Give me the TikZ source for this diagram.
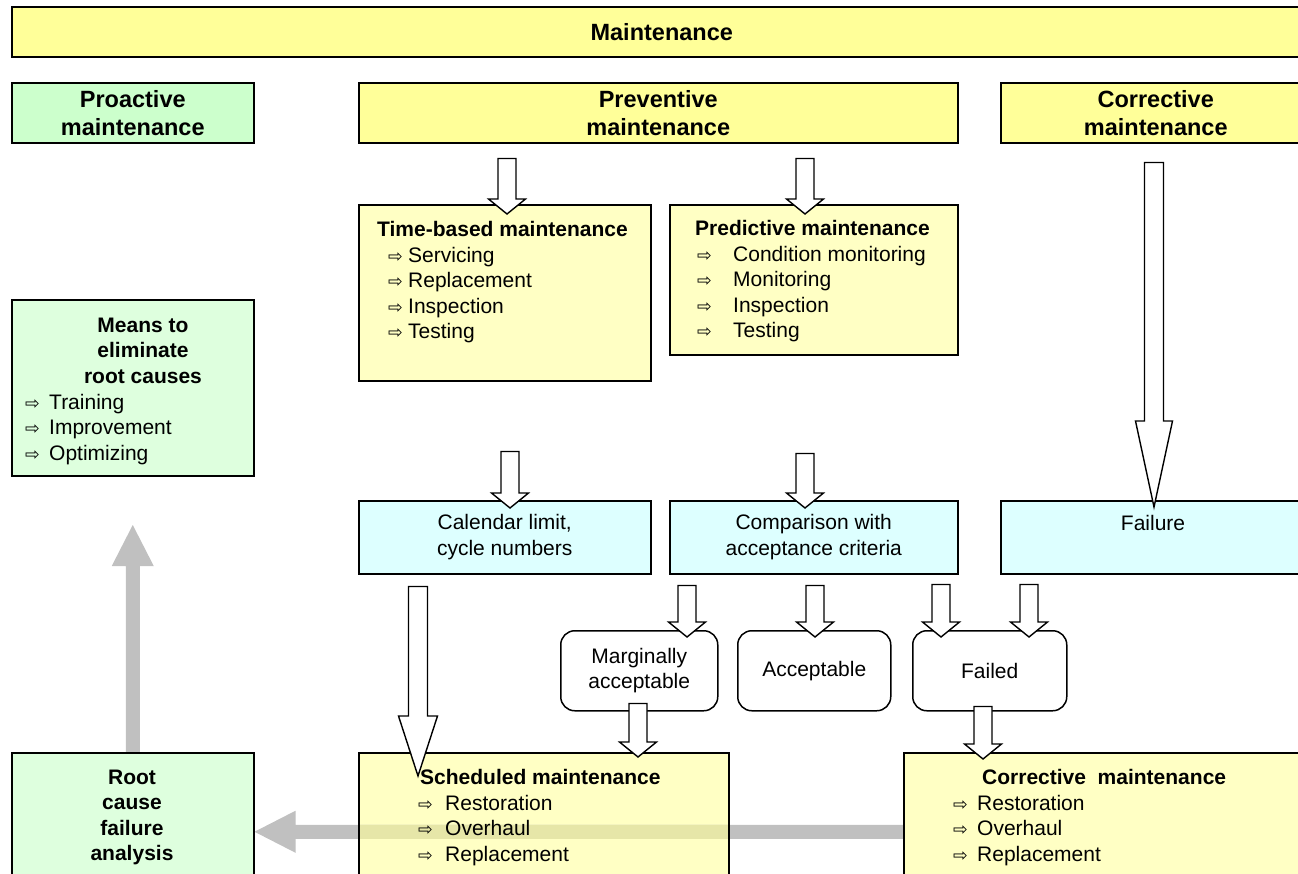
\documentclass[tikz,border=0pt]{standalone}
\usepackage{fontspec}
\setmainfont{Liberation Sans}
\newfontfamily\symfont{DejaVu Sans}
\usetikzlibrary{calc}
\pgfdeclarelayer{bg}
\pgfsetlayers{bg,main}

\definecolor{hdryel}{HTML}{FFFF99}
\definecolor{boxyel}{HTML}{FFFFC4}
\definecolor{hdrgrn}{HTML}{CCFFCC}
\definecolor{boxgrn}{HTML}{DEFFDE}
\definecolor{boxcyan}{HTML}{DDFFFF}
\definecolor{arrgray}{HTML}{C0C0C0}
\definecolor{arrblend}{RGB}{230,230,168}

% white-arrow bullet and an indented list item
\newcommand\arsym{{\symfont\fontsize{17.5}{17.5}\selectfont ⇨}}
\newcommand\itm[3]{\hspace*{#1pt}\makebox[#2pt][l]{\arsym}#3}

% outlined block arrow pointing down: from, tip, shaft half, head half, head length
\newcommand\blockdown[5]{%
  \draw[blk] let \p1=(#1), \p2=(#2) in
    (\x2-#3,\y1) -- (\x2-#3,\y2+#5) -- (\x2-#4,\y2+#5) -- (\x2,\y2)
    -- (\x2+#4,\y2+#5) -- (\x2+#3,\y2+#5) -- (\x2+#3,\y1) -- cycle;}
\newcommand\shortdown[2]{\blockdown{#1}{#2}{9pt}{18.5pt}{15pt}}

% filled grey arrows
\newcommand\grayup[3]{%
  \fill[#3] let \p1=(#1), \p2=(#2) in
    (\x1-7pt,\y1) -- (\x1-7pt,\y2-41pt) -- (\x1-21pt,\y2-41pt) -- (\x1,\y2)
    -- (\x1+21pt,\y2-41pt) -- (\x1+7pt,\y2-41pt) -- (\x1+7pt,\y1) -- cycle;}
\newcommand\grayleft[3]{%
  \fill[#3] let \p1=(#1), \p2=(#2) in
    (\x1,\y1+7pt) -- (\x2+41pt,\y1+7pt) -- (\x2+41pt,\y1+21pt) -- (\x2,\y1)
    -- (\x2+41pt,\y1-21pt) -- (\x2+41pt,\y1-7pt) -- (\x1,\y1-7pt) -- cycle;}

\begin{document}
\begin{tikzpicture}[x=1pt,y=-1pt,
  font=\fontsize{21}{25.5}\selectfont,
  box/.style={draw=black, line width=1.5pt, rectangle, inner sep=0pt,
              anchor=north west, align=center},
  rbox/.style={box, rounded corners=14pt, fill=white},
  txt/.style={inner sep=0pt, anchor=north west, align=left},
  ctxt/.style={inner sep=0pt, anchor=north, align=center, font=\fontsize{21}{25.5}\selectfont\bfseries},
  blk/.style={draw=black, line width=1.4pt, fill=white, line join=miter},
  hdr/.style={font=\fontsize{23.5}{28}\selectfont\bfseries}]

\useasboundingbox (0,0) rectangle (1298,873);
\begin{pgfonlayer}{bg}
  \fill[white] (0,0) rectangle (1298,873);
\end{pgfonlayer}
\clip (0,0) rectangle (1298,873);

% top level
\node[box, fill=hdryel, hdr, minimum width=1300pt, minimum height=50pt] (maint) at (11,6) {Maintenance};

% three strategies
\node[box, fill=hdrgrn, hdr, minimum width=242pt, minimum height=60pt] (proact) at (11,82) {Proactive\\maintenance};
\node[box, fill=hdryel, hdr, minimum width=599pt, minimum height=60pt] (prev) at (358,82) {Preventive\\maintenance};
\node[box, fill=hdryel, hdr, minimum width=310pt, minimum height=60pt] (corr) at (1000,82) {Corrective\\maintenance};

% preventive branches
\node[box, fill=boxyel, minimum width=292pt, minimum height=176pt] (tbm) at (358,204) {};
\node[txt] (tbmtxt) at (377,221.5) {\textbf{Time-based maintenance}\\\itm{11}{20}{Servicing}\\\itm{11}{20}{Replacement}\\\itm{11}{20}{Inspection}\\\itm{11}{20}{Testing}};
\node[box, fill=boxyel, minimum width=288pt, minimum height=150pt] (pdm) at (669,204) {};
\node[txt] (pdmtxt) at (695,220.5) {\textbf{Predictive maintenance}\\\itm{2}{36}{Condition monitoring}\\\itm{2}{36}{Monitoring}\\\itm{2}{36}{Inspection}\\\itm{2}{36}{Testing}};

% proactive means
\node[box, fill=boxgrn, minimum width=242pt, minimum height=176pt] (means) at (11,299) {};
\node[ctxt] (meanstitle) at (143,317.5) {Means to\\eliminate\\root causes};
\node[txt] (meanstxt) at (25,394) {\itm{0}{24}{Training}\\\itm{0}{24}{Improvement}\\\itm{0}{24}{Optimizing}};

% triggers
\node[box, fill=boxcyan, minimum width=292pt, minimum height=73pt] (cal) at (358,500) {Calendar limit,\\cycle numbers};
\node[box, fill=boxcyan, minimum width=288pt, minimum height=73pt] (cmp) at (669,500) {Comparison with\\acceptance criteria};
\node[box, fill=boxcyan, minimum width=310pt, minimum height=73pt] (fail) at (1000,500) {};
\node[inner sep=0pt, anchor=north] (failtxt) at (1153,515) {Failure};

% outcomes
\node[rbox, minimum width=157pt, minimum height=80pt] (marg) at (560,630) {Marginally\\acceptable};
\node[rbox, minimum width=153pt, minimum height=80pt] (acc) at (737,630) {Acceptable};
\node[rbox, minimum width=154pt, minimum height=80pt] (failed) at (912,630) {Failed};

% actions
\node[box, fill=boxgrn, minimum width=242pt, minimum height=140pt] (root) at (11,752) {};
\node[ctxt] (roottxt) at (132,769.5) {Root\\cause\\failure\\analysis};
\node[box, minimum width=370pt, minimum height=140pt] (sched) at (358,752) {};
\node[txt] (schedtxt) at (418,769.5) {\hspace*{2pt}\textbf{Scheduled maintenance}\\\itm{0}{27}{Restoration}\\\itm{0}{27}{Overhaul}\\\itm{0}{27}{Replacement}};
\node[box, fill=boxyel, minimum width=410pt, minimum height=140pt] (corrb) at (903,752) {};
\node[txt] (corrbtxt) at (953,769.5) {\hspace*{29pt}\textbf{Corrective\ \ maintenance}\\\itm{0}{24}{Restoration}\\\itm{0}{24}{Overhaul}\\\itm{0}{24}{Replacement}};

% block arrows
\coordinate (a1s) at ($(prev.south west)+(149,15)$);
\coordinate (a1t) at ([yshift=-10pt]tbm.north -| a1s);
\shortdown{a1s}{a1t}
\coordinate (a2s) at ($(prev.south west)+(447,15)$);
\coordinate (a2t) at ([yshift=-10pt]pdm.north -| a2s);
\shortdown{a2s}{a2t}
\coordinate (a3s) at ($(tbm.south west)+(152,70)$);
\coordinate (a3t) at ([yshift=-8pt]cal.north -| a3s);
\shortdown{a3s}{a3t}
\coordinate (a4s) at ($(pdm.south west)+(136,98)$);
\coordinate (a4t) at ([yshift=-8pt]cmp.north -| a4s);
\shortdown{a4s}{a4t}
\coordinate (a5s) at ($(corr.south west)+(154,19)$);
\coordinate (a5t) at ([yshift=-7pt]fail.north -| a5s);
\blockdown{a5s}{a5t}{9.5pt}{18.5pt}{86pt}
\coordinate (a6s) at ($(cmp.south west)+(18,11)$);
\coordinate (a6t) at ([yshift=-7pt]marg.north -| a6s);
\shortdown{a6s}{a6t}
\coordinate (a7s) at ($(cmp.south west)+(146,11)$);
\coordinate (a7t) at ([yshift=-7pt]acc.north -| a7s);
\shortdown{a7s}{a7t}
\coordinate (a8s) at ($(cmp.south west)+(272,10)$);
\coordinate (a8t) at ([yshift=-7pt]failed.north -| a8s);
\shortdown{a8s}{a8t}
\coordinate (a9s) at ($(fail.south west)+(29,10)$);
\coordinate (a9t) at ([yshift=-7pt]failed.north -| a9s);
\shortdown{a9s}{a9t}
\coordinate (a10s) at ($(cal.south west)+(60,12)$);
\coordinate (a10t) at ([yshift=-24pt]sched.north -| a10s);
\blockdown{a10s}{a10t}{9.5pt}{19.5pt}{60pt}
\coordinate (a11s) at ($(marg.south west)+(78,-8)$);
\coordinate (a11t) at ([yshift=-5pt]sched.north -| a11s);
\shortdown{a11s}{a11t}
\coordinate (a12s) at ($(failed.south west)+(71,-5)$);
\coordinate (a12t) at ([yshift=-7pt]corrb.north -| a12s);
\shortdown{a12s}{a12t}

% feedback arrows
\coordinate (gu) at ([yshift=227pt]root.north);
\coordinate (gs) at ([yshift=-9pt]corrb.west);
\coordinate (gt) at (root.east |- gs);
\begin{pgfonlayer}{bg}
  \grayup{root.north}{gu}{arrgray}
  \fill[boxyel] (sched.north west) rectangle (sched.south east);
  \grayleft{gs}{gt}{arrgray}
  \begin{scope}
    \clip (sched.north west) rectangle (sched.south east);
    \grayleft{gs}{gt}{arrblend}
  \end{scope}
\end{pgfonlayer}
\end{tikzpicture}
\end{document}
